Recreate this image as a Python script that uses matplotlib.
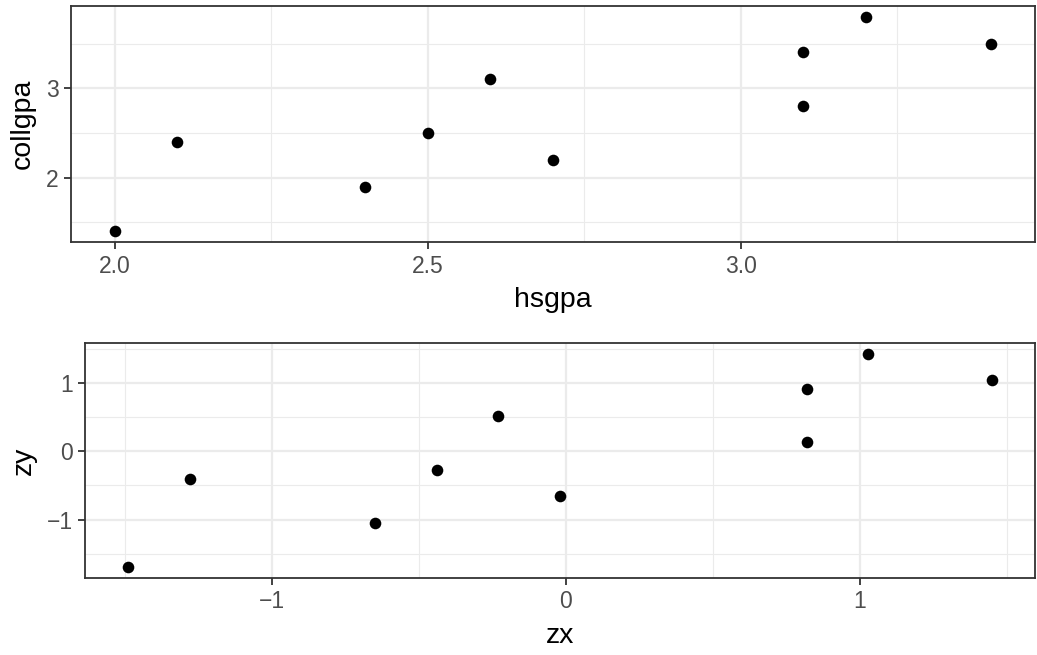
import matplotlib
matplotlib.use("Agg")
import matplotlib.pyplot as plt
from matplotlib.ticker import MultipleLocator

plt.rcParams["font.family"] = ["Liberation Sans", "DejaVu Sans"]

# raw data
hsgpa = [2.0, 2.1, 2.4, 2.5, 2.6, 2.7, 3.1, 3.1, 3.2, 3.4]
collgpa = [1.4, 2.4, 1.9, 2.5, 3.1, 2.2, 3.4, 2.8, 3.8, 3.5]

# standardized values
zx = [-1.49, -1.28, -0.65, -0.44, -0.23, -0.02, 0.82, 0.82, 1.03, 1.45]
zy = [-1.70, -0.40, -1.05, -0.27, 0.52, -0.66, 0.91, 0.13, 1.43, 1.04]

W, H = 1037, 655
fig = plt.figure(figsize=(W / 100, H / 100), dpi=100)


def expand(vals, frac=0.05):
    lo, hi = min(vals), max(vals)
    pad = (hi - lo) * frac
    return lo - pad, hi + pad


def style_panel(ax, x, y, xlabel, ylabel, xmaj, ymaj, xfmt=None):
    ax.set_facecolor("white")
    ax.scatter(x, y, s=70, color="black", zorder=3, linewidths=0)
    ax.set_xlim(*expand(x))
    ax.set_ylim(*expand(y))
    ax.xaxis.set_major_locator(MultipleLocator(xmaj))
    ax.xaxis.set_minor_locator(MultipleLocator(xmaj / 2))
    ax.yaxis.set_major_locator(MultipleLocator(ymaj))
    ax.yaxis.set_minor_locator(MultipleLocator(ymaj / 2))
    if xfmt:
        ax.xaxis.set_major_formatter(xfmt)
    ax.yaxis.set_major_formatter(lambda v, p: f"{v:g}".replace("-", "\u2212"))
    ax.grid(which="major", color="#EBEBEB", linewidth=1.6, zorder=0)
    ax.grid(which="minor", color="#EBEBEB", linewidth=0.8, zorder=0)
    ax.set_axisbelow(True)
    for sp in ax.spines.values():
        sp.set_color("#333333")
        sp.set_linewidth(1.3)
    ax.tick_params(which="major", length=5, width=1.3, color="#333333",
                   labelcolor="#4D4D4D", labelsize=16.5, pad=4)
    ax.tick_params(which="minor", length=0)
    ax.set_xlabel(xlabel, fontsize=20.5, color="black", labelpad=6.5)
    ax.set_ylabel(ylabel, fontsize=20.5, color="black", labelpad=7)


# top panel
ax1 = fig.add_axes([71 / W, 1 - 242 / H, (1035 - 71) / W, (242 - 6) / H])
style_panel(ax1, hsgpa, collgpa, "hsgpa", "collgpa", 0.5, 1.0,
            xfmt=lambda v, p: f"{v:.1f}")

# bottom panel
ax2 = fig.add_axes([85 / W, 1 - 578 / H, (1035 - 85) / W, (578 - 343) / H])
style_panel(ax2, zx, zy, "zx", "zy", 1.0, 1.0,
            xfmt=lambda v, p: f"{v:g}".replace("-", "\u2212"))

fig.savefig("out.png", dpi=100)
